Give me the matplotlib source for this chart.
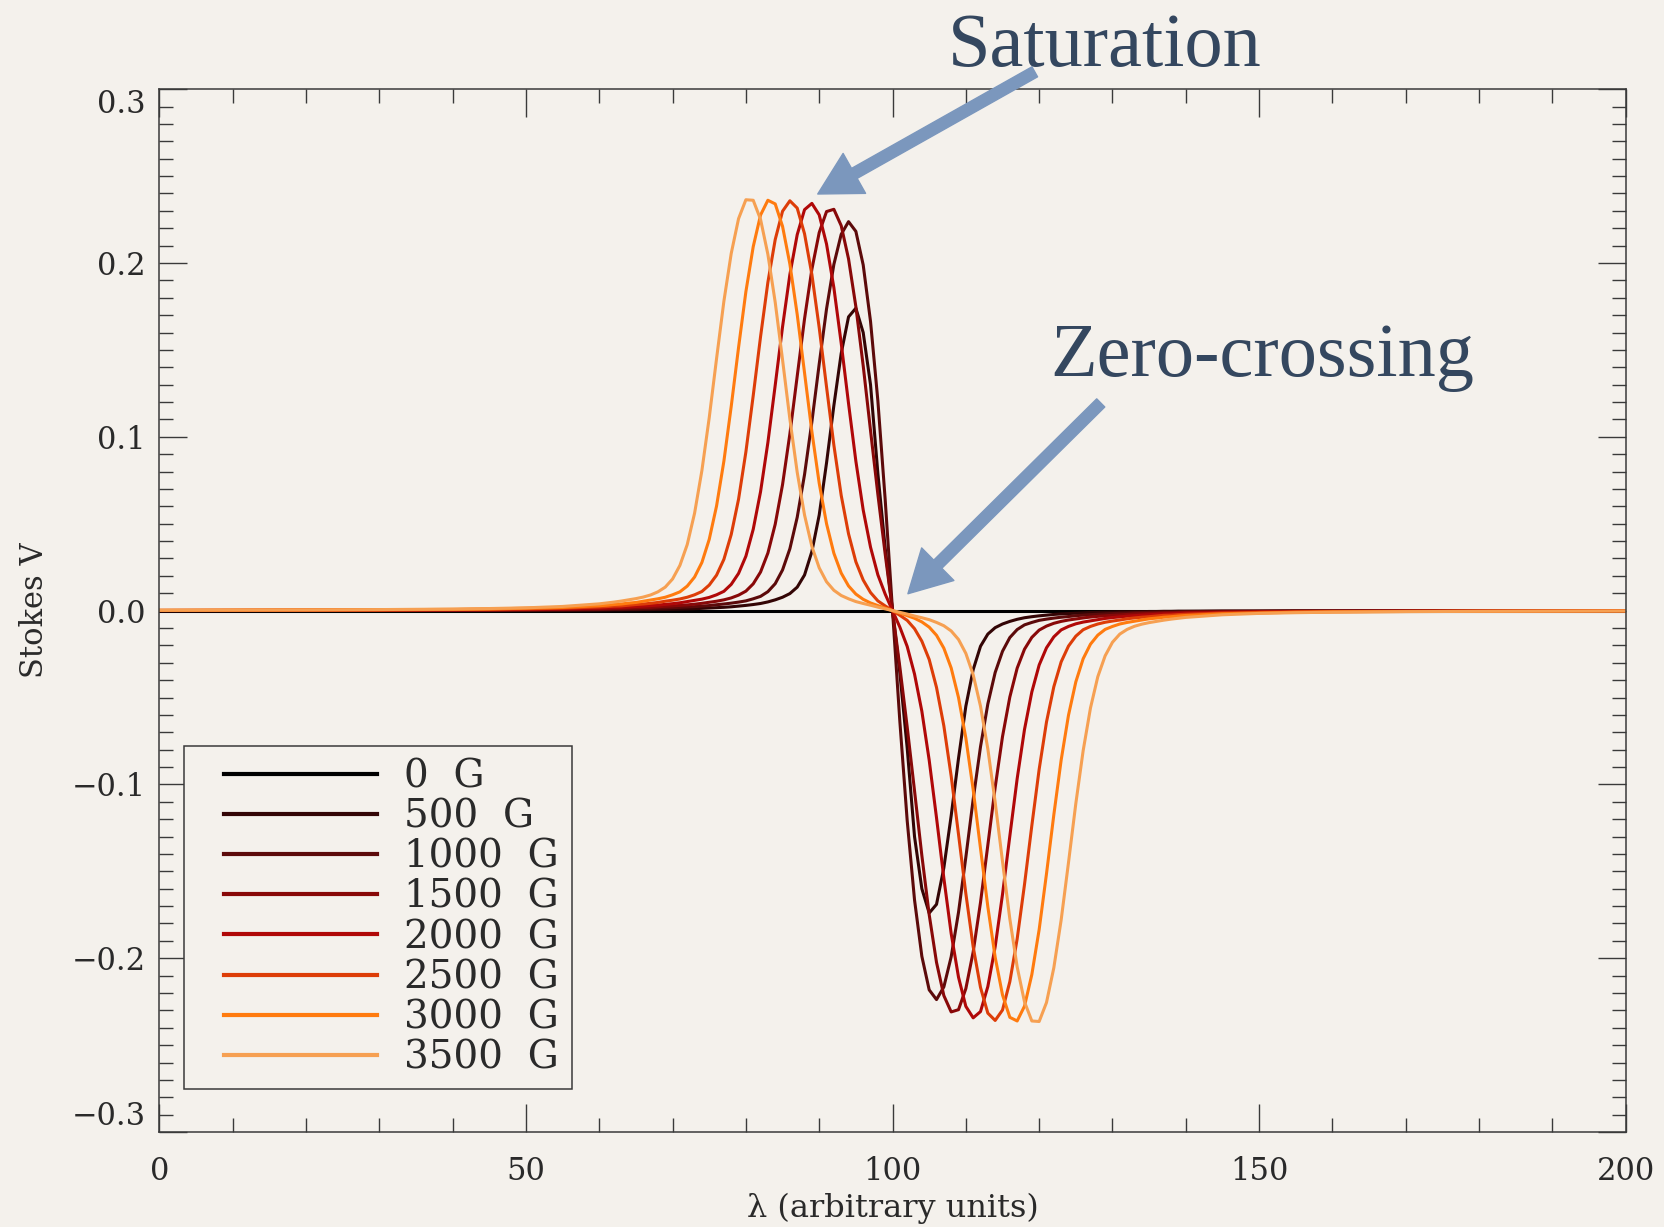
import matplotlib
matplotlib.use('Agg')
import matplotlib.pyplot as plt
from matplotlib.ticker import MultipleLocator
from matplotlib.legend_handler import HandlerLine2D

plt.rcParams['font.family'] = ['DejaVu Serif']
plt.rcParams['axes.unicode_minus'] = True

# wavelength samples (arbitrary units)
lam = [0, 20, 30, 40, 45, 50, 55] + list(range(60, 141)) + [145, 150, 155, 160, 170, 180, 200]

# Stokes V profiles, one list per field strength
v_0 = [0.0] * len(lam)

v_500 = [0.0, 0.0, 0.0001, 0.0001, 0.0001, 0.0002, 0.0002,
         0.0003, 0.0003, 0.0004, 0.0004, 0.0005, 0.0005, 0.0006, 0.0006, 0.0007, 0.0007,
         0.0008, 0.0009, 0.0010, 0.0011, 0.0013, 0.0015, 0.0017, 0.0019, 0.0022, 0.0026,
         0.0030, 0.0035, 0.0041, 0.0050, 0.0062, 0.0077, 0.0098, 0.0135, 0.0205, 0.0340,
         0.0550, 0.0850, 0.1180, 0.1480, 0.1690, 0.1740, 0.1600, 0.1300, 0.0790, 0.0360, 0.0,
         -0.0360, -0.0790, -0.1300, -0.1600, -0.1740, -0.1690, -0.1480, -0.1180, -0.0850, -0.0550,
         -0.0340, -0.0205, -0.0135, -0.0098, -0.0077, -0.0062, -0.0050, -0.0041, -0.0035, -0.0030,
         -0.0026, -0.0022, -0.0019, -0.0017, -0.0015, -0.0013, -0.0011, -0.0010, -0.0009, -0.0008,
         -0.0007, -0.0007, -0.0006, -0.0006, -0.0005, -0.0005, -0.0004, -0.0004, -0.0003, -0.0003,
         -0.0002, -0.0002, -0.0001, -0.0001, -0.0001, 0.0, 0.0]

v_1000 = [0.0, 0.0001, 0.0001, 0.0002, 0.0002, 0.0003, 0.0004,
          0.0006, 0.0007, 0.0008, 0.0008, 0.0009, 0.0010, 0.0011, 0.0012, 0.0014, 0.0015,
          0.0017, 0.0019, 0.0021, 0.0023, 0.0026, 0.0029, 0.0034, 0.0038, 0.0043, 0.0049,
          0.0056, 0.0068, 0.0082, 0.0109, 0.0155, 0.0234, 0.0356, 0.0537, 0.0783, 0.1086,
          0.1419, 0.1736, 0.1992, 0.2165, 0.2238, 0.2182, 0.1989, 0.1664, 0.1208, 0.0638, 0.0,
          -0.0638, -0.1208, -0.1664, -0.1989, -0.2182, -0.2238, -0.2165, -0.1992, -0.1736, -0.1419,
          -0.1086, -0.0783, -0.0537, -0.0356, -0.0234, -0.0155, -0.0109, -0.0082, -0.0068, -0.0056,
          -0.0049, -0.0043, -0.0038, -0.0034, -0.0029, -0.0026, -0.0023, -0.0021, -0.0019, -0.0017,
          -0.0015, -0.0014, -0.0012, -0.0011, -0.0010, -0.0009, -0.0008, -0.0008, -0.0007, -0.0006,
          -0.0004, -0.0003, -0.0002, -0.0002, -0.0001, -0.0001, 0.0]

v_1500 = [0.0, 0.0001, 0.0003, 0.0004, 0.0004, 0.0005, 0.0007,
          0.0010, 0.0011, 0.0012, 0.0013, 0.0015, 0.0016, 0.0018, 0.0019, 0.0022, 0.0025,
          0.0027, 0.0030, 0.0033, 0.0037, 0.0042, 0.0048, 0.0054, 0.0062, 0.0073, 0.0089,
          0.0112, 0.0154, 0.0222, 0.0331, 0.0497, 0.0725, 0.1017, 0.1349, 0.1679, 0.1964,
          0.2175, 0.2296, 0.2309, 0.2215, 0.2024, 0.1749, 0.1409, 0.1036, 0.0669, 0.0325, 0.0,
          -0.0325, -0.0669, -0.1036, -0.1409, -0.1749, -0.2024, -0.2215, -0.2309, -0.2296, -0.2175,
          -0.1964, -0.1679, -0.1349, -0.1017, -0.0725, -0.0497, -0.0331, -0.0222, -0.0154, -0.0112,
          -0.0089, -0.0073, -0.0062, -0.0054, -0.0048, -0.0042, -0.0037, -0.0033, -0.0030, -0.0027,
          -0.0025, -0.0022, -0.0019, -0.0018, -0.0016, -0.0015, -0.0013, -0.0012, -0.0011, -0.0010,
          -0.0007, -0.0005, -0.0004, -0.0004, -0.0003, -0.0001, 0.0]

v_2000 = [0.0001, 0.0002, 0.0003, 0.0004, 0.0005, 0.0007, 0.0010,
          0.0014, 0.0016, 0.0018, 0.0019, 0.0021, 0.0024, 0.0026, 0.0029, 0.0032, 0.0036,
          0.0040, 0.0045, 0.0052, 0.0059, 0.0066, 0.0076, 0.0091, 0.0111, 0.0151, 0.0214,
          0.0313, 0.0468, 0.0684, 0.0967, 0.1297, 0.1633, 0.1934, 0.2163, 0.2307, 0.2343,
          0.2277, 0.2109, 0.1858, 0.1539, 0.1192, 0.0860, 0.0579, 0.0365, 0.0206, 0.0095, 0.0,
          -0.0095, -0.0206, -0.0365, -0.0579, -0.0860, -0.1192, -0.1539, -0.1858, -0.2109, -0.2277,
          -0.2343, -0.2307, -0.2163, -0.1934, -0.1633, -0.1297, -0.0967, -0.0684, -0.0468, -0.0313,
          -0.0214, -0.0151, -0.0111, -0.0091, -0.0076, -0.0066, -0.0059, -0.0052, -0.0045, -0.0040,
          -0.0036, -0.0032, -0.0029, -0.0026, -0.0024, -0.0021, -0.0019, -0.0018, -0.0016, -0.0014,
          -0.0010, -0.0007, -0.0005, -0.0004, -0.0003, -0.0002, -0.0001]

v_2500 = [0.0001, 0.0003, 0.0004, 0.0006, 0.0008, 0.0010, 0.0014,
          0.0021, 0.0023, 0.0026, 0.0027, 0.0031, 0.0035, 0.0038, 0.0042, 0.0047, 0.0054,
          0.0060, 0.0067, 0.0077, 0.0091, 0.0110, 0.0147, 0.0204, 0.0295, 0.0438, 0.0641,
          0.0913, 0.1237, 0.1576, 0.1889, 0.2135, 0.2298, 0.2358, 0.2316, 0.2168, 0.1934,
          0.1628, 0.1287, 0.0952, 0.0663, 0.0442, 0.0281, 0.0176, 0.0104, 0.0056, 0.0027, 0.0,
          -0.0027, -0.0056, -0.0104, -0.0176, -0.0281, -0.0442, -0.0663, -0.0952, -0.1287, -0.1628,
          -0.1934, -0.2168, -0.2316, -0.2358, -0.2298, -0.2135, -0.1889, -0.1576, -0.1237, -0.0913,
          -0.0641, -0.0438, -0.0295, -0.0204, -0.0147, -0.0110, -0.0091, -0.0077, -0.0067, -0.0060,
          -0.0054, -0.0047, -0.0042, -0.0038, -0.0035, -0.0031, -0.0027, -0.0026, -0.0023, -0.0021,
          -0.0014, -0.0010, -0.0008, -0.0006, -0.0004, -0.0003, -0.0001]

v_3000 = [0.0002, 0.0004, 0.0005, 0.0007, 0.0009, 0.0014, 0.0018,
          0.0028, 0.0031, 0.0035, 0.0038, 0.0043, 0.0047, 0.0054, 0.0061, 0.0068, 0.0077,
          0.0091, 0.0108, 0.0141, 0.0193, 0.0277, 0.0410, 0.0602, 0.0860, 0.1175, 0.1514,
          0.1835, 0.2094, 0.2276, 0.2361, 0.2340, 0.2211, 0.1994, 0.1704, 0.1368, 0.1030,
          0.0733, 0.0500, 0.0330, 0.0216, 0.0142, 0.0095, 0.0065, 0.0044, 0.0029, 0.0014, 0.0,
          -0.0014, -0.0029, -0.0044, -0.0065, -0.0095, -0.0142, -0.0216, -0.0330, -0.0500, -0.0733,
          -0.1030, -0.1368, -0.1704, -0.1994, -0.2211, -0.2340, -0.2361, -0.2276, -0.2094, -0.1835,
          -0.1514, -0.1175, -0.0860, -0.0602, -0.0410, -0.0277, -0.0193, -0.0141, -0.0108, -0.0091,
          -0.0077, -0.0068, -0.0061, -0.0054, -0.0047, -0.0043, -0.0038, -0.0035, -0.0031, -0.0028,
          -0.0018, -0.0014, -0.0009, -0.0007, -0.0005, -0.0004, -0.0002]

v_3500 = [0.0002, 0.0004, 0.0006, 0.0009, 0.0012, 0.0016, 0.0024,
          0.0039, 0.0044, 0.0049, 0.0055, 0.0062, 0.0069, 0.0078, 0.0090, 0.0108, 0.0135,
          0.0182, 0.0260, 0.0380, 0.0560, 0.0806, 0.1110, 0.1450, 0.1780, 0.2055, 0.2255,
          0.2364, 0.2361, 0.2251, 0.2050, 0.1774, 0.1443, 0.1102, 0.0796, 0.0550, 0.0369,
          0.0246, 0.0166, 0.0117, 0.0087, 0.0068, 0.0052, 0.0041, 0.0031, 0.0020, 0.0010, 0.0,
          -0.0010, -0.0020, -0.0031, -0.0041, -0.0052, -0.0068, -0.0087, -0.0117, -0.0166, -0.0246,
          -0.0369, -0.0550, -0.0796, -0.1102, -0.1443, -0.1774, -0.2050, -0.2251, -0.2361, -0.2364,
          -0.2255, -0.2055, -0.1780, -0.1450, -0.1110, -0.0806, -0.0560, -0.0380, -0.0260, -0.0182,
          -0.0135, -0.0108, -0.0090, -0.0078, -0.0069, -0.0062, -0.0055, -0.0049, -0.0044, -0.0039,
          -0.0024, -0.0016, -0.0012, -0.0009, -0.0006, -0.0004, -0.0002]

profiles = [v_0, v_500, v_1000, v_1500, v_2000, v_2500, v_3000, v_3500]
labels = ['0  G', '500  G', '1000  G', '1500  G', '2000  G', '2500  G', '3000  G', '3500  G']
colors = ['#000000', '#330505', '#5c0a0a', '#880808', '#b00808', '#dd3d08', '#ff7b0f', '#f6a052']

y_ticks = [-0.3, -0.2, -0.1, 0.0, 0.1, 0.2, 0.3]
y_ticklabels = ['\u22120.3', '\u22120.2', '\u22120.1', '0.0', '0.1', '0.2', '0.3']
x_ticks = [0, 50, 100, 150, 200]

bg = '#f4f1ec'
ink = '#2a2a2a'
fig = plt.figure(figsize=(16.65, 12.27), dpi=100, facecolor=bg)
ax = fig.add_axes([0.0957, 0.0774, 0.8807, 0.8499], facecolor=bg)

for v, lab, c in zip(profiles, labels, colors):
    ax.plot(lam, v, color=c, linewidth=2.2, label=lab)

ax.set_xlim(0, 200)
ax.set_ylim(-0.3, 0.3)

# IDL style axes: ticks inside on all four sides
ax.xaxis.set_major_locator(MultipleLocator(50))
ax.xaxis.set_minor_locator(MultipleLocator(10))
ax.yaxis.set_minor_locator(MultipleLocator(0.01))
ax.set_xticks(x_ticks)
ax.set_yticks(y_ticks)
ax.set_yticklabels(y_ticklabels)
ax.tick_params(which='both', direction='in', top=True, right=True, color='#3a3a3a', width=1.0,
               labelsize=22, labelcolor=ink)
ax.tick_params(which='major', length=20)
ax.tick_params(which='minor', length=10)
ax.tick_params(axis='y', pad=10)
ax.tick_params(axis='x', pad=17)
ylabs = ax.get_yticklabels()
ylabs[0].set_va('bottom')
ylabs[-1].set_va('top')
for s in ax.spines.values():
    s.set_color('#3a3a3a')
    s.set_linewidth(1.1)

ax.set_xlabel('\u03bb (arbitrary units)', fontsize=23, color=ink)
ax.set_ylabel('Stokes V', fontsize=22, color=ink)
ax.xaxis.set_label_coords(0.5, -0.073)
ax.xaxis.label.set_va('center')
ax.yaxis.set_label_coords(-0.085, 0.5)
ax.yaxis.label.set_va('center')

leg = ax.legend(loc='lower left', bbox_to_anchor=(0.0168, 0.041), borderaxespad=0.,
                fontsize=28, handlelength=4.64, handletextpad=0.69, labelspacing=0.08,
                borderpad=0.33, fancybox=False, framealpha=1.0, facecolor=bg,
                edgecolor='#3a3a3a', handler_map={plt.Line2D: HandlerLine2D(xpad=0.69)})
leg.get_frame().set_linewidth(1.1)
for t in leg.get_texts():
    t.set_color(ink)
for h in leg.get_lines():
    h.set_linewidth(3.0)

# callouts
arrow_c = '#7b97bd'
text_c = '#34475f'
astyle = 'simple,head_length=0.55,head_width=0.6,tail_width=0.15'
ax.annotate('', xy=(89.8, 0.2397), xytext=(119.4, 0.310), annotation_clip=False,
            arrowprops=dict(arrowstyle=astyle, color=arrow_c, mutation_scale=55,
                            shrinkA=0, shrinkB=0))
ax.annotate('', xy=(102.1, 0.0097), xytext=(128.4, 0.1195), annotation_clip=False,
            arrowprops=dict(arrowstyle=astyle, color=arrow_c, mutation_scale=55,
                            shrinkA=0, shrinkB=0))
ax.text(128.9, 0.3135, 'Saturation', fontsize=55, family='Liberation Serif', color=text_c,
        ha='center', va='baseline', clip_on=False)
ax.text(150.5, 0.1348, 'Zero-crossing', fontsize=55, family='Liberation Serif', color=text_c,
        ha='center', va='baseline', clip_on=False)

plt.savefig('out.png', dpi=100, facecolor=bg)
